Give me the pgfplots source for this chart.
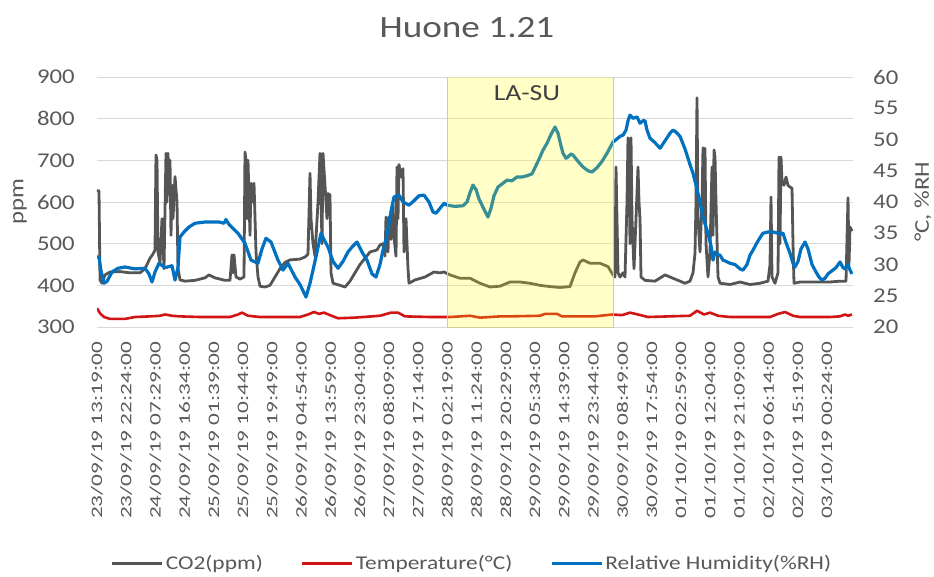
\documentclass[border=0pt]{standalone}
\usepackage{pgfplots}
\pgfplotsset{compat=1.18}
\usepackage{fontspec}
\setmainfont{Carlito}
\definecolor{txt}{RGB}{89,89,89}
\definecolor{gridc}{RGB}{217,217,217}
\definecolor{co2c}{RGB}{85,85,85}
\definecolor{tempc}{RGB}{210,20,20}
\definecolor{rhc}{RGB}{0,112,192}
\definecolor{boxedge}{RGB}{205,205,160}
\newcommand\xl[1]{\scalebox{1.45}[1]{#1}}
\newcommand\sx[1]{\scalebox{1.18}[1]{#1}}
\begin{document}
\begin{tikzpicture}
\useasboundingbox (-97pt,-249pt) rectangle (837pt,327pt);
\pgfplotsset{
  base/.style={
    scale only axis, width=756pt, height=250pt,
    xmin=97, xmax=853,
    axis line style={draw=none}, major tick length=0pt,
    /pgf/number format/assume math mode=true,
    clip=true,
  },
  legend image code/.code={\draw[#1,line width=3pt] (0pt,0pt) -- (50pt,0pt);},
}
\begin{axis}[base,
  ymin=300, ymax=900, ytick={300,400,...,900},
  ymajorgrids, grid style={draw=gridc, line width=0.9pt},
  yticklabel={\sx{\pgfmathprintnumber{\tick}}},
  yticklabel style={font=\fontsize{21}{21}\selectfont, text=txt, inner sep=0pt, xshift=-22pt},
  ylabel={\sx{ppm}},
  ylabel style={font=\fontsize{21}{21}\selectfont, text=txt, at={(axis description cs:-0.102,0.5)}, anchor=center},
  xtick={97,126.2,...,828},
  xticklabels={\xl{23/09/19 13:19:00},\xl{23/09/19 22:24:00},\xl{24/09/19 07:29:00},\xl{24/09/19 16:34:00},\xl{25/09/19 01:39:00},\xl{25/09/19 10:44:00},\xl{25/09/19 19:49:00},\xl{26/09/19 04:54:00},\xl{26/09/19 13:59:00},\xl{26/09/19 23:04:00},\xl{27/09/19 08:09:00},\xl{27/09/19 17:14:00},\xl{28/09/19 02:19:00},\xl{28/09/19 11:24:00},\xl{28/09/19 20:29:00},\xl{29/09/19 05:34:00},\xl{29/09/19 14:39:00},\xl{29/09/19 23:44:00},\xl{30/09/19 08:49:00},\xl{30/09/19 17:54:00},\xl{01/10/19 02:59:00},\xl{01/10/19 12:04:00},\xl{01/10/19 21:09:00},\xl{02/10/19 06:14:00},\xl{02/10/19 15:19:00},\xl{03/10/19 00:24:00}},
  xticklabel style={font=\fontsize{16}{16}\selectfont, text=txt, inner sep=0pt, yshift=-15pt, rotate=90, anchor=east},
]
\addplot[co2c, line width=2.8pt, line join=round] coordinates {
(97,627)(99,627)(100,413)(102,405)(105,425)(110,432)(120,433)(130,430)(140,430)(145,440)(148,455)(150,465)(153,475)(155,485)
(156,713)(157,700)(158,480)(160,455)(162,560)(164,440)(166,717)(167,600)(168,717)(169,620)(170,700)(171,520)(172,640)(173,560)
(175,661)(177,600)(178,440)(180,413)(185,410)(195,412)(205,418)(209,425)(215,418)(225,412)(230,412)(232,473)(233,430)(234,473)
(236,420)(240,415)(244,420)(245,720)(246,700)(247,560)(248,700)(250,520)(251,645)(253,600)(254,645)(256,480)(258,420)(260,398)
(265,396)(270,400)(275,420)(280,440)(285,455)(290,461)(300,463)(305,468)(308,475)(310,669)(311,560)(313,500)(315,470)(318,600)
(320,717)(322,500)(323,717)(325,640)(327,560)(328,620)(330,617)(331,430)(333,405)(340,400)(345,396)(350,410)(355,430)(360,450)
(365,465)(370,480)(377,485)(380,497)(383,500)(385,470)(386,564)(388,480)(389,564)(391,510)(393,600)(394,516)(396,470)(397,684)
(398,560)(399,690)(401,660)(403,680)(404,480)(406,560)(408,440)(409,405)(415,413)(425,420)(434,432)(440,430)(444,432)(450,425)
(460,417)(470,417)(480,405)(490,396)(500,398)(510,408)(520,408)(530,405)(540,400)(550,397)(560,395)(570,397)(575,430)(580,456)
(583,461)(590,453)(600,453)(608,445)(613,425)(615,420)(616,684)(618,430)(620,420)(623,430)(625,420)(627,600)(628,754)(629,700)
(630,500)(631,754)(632,560)(634,440)(636,560)(638,684)(639,600)(640,560)(641,420)(645,412)(655,410)(665,425)(670,420)(680,410)
(685,405)(690,410)(693,430)(695,477)(696,600)(697,850)(698,560)(700,480)(702,600)(703,730)(704,560)(705,729)(706,500)(708,420)
(710,480)(712,684)(713,520)(714,725)(715,708)(716,600)(718,420)(720,405)(730,402)(740,408)(750,402)(760,405)(768,410)(770,450)
(771,612)(772,420)(775,405)(778,430)(779,708)(780,500)(781,708)(782,650)(784,640)(786,660)(788,640)(790,636)(792,633)(793,500)
(794,405)(800,408)(810,408)(820,408)(830,408)(840,410)(846,410)(848,610)(849,450)(850,540)(852,530)
};
\end{axis}
\begin{axis}[base,
  ymin=20, ymax=60, ytick={20,25,...,60},
  axis y line*=right, axis x line=none,
  yticklabel={\sx{\pgfmathprintnumber{\tick}}},
  yticklabel style={font=\fontsize{21}{21}\selectfont, text=txt, inner sep=0pt, xshift=20pt, anchor=west},
  ylabel={\sx{°C, \%RH}},
  ylabel style={font=\fontsize{21}{21}\selectfont, text=txt, at={(axis description cs:1.0926,0.5)}, anchor=center},
  legend style={at={(0.496,-0.944)}, anchor=center, draw=none, fill=none,
    font=\fontsize{19.5}{19.5}\selectfont, text=txt, legend columns=3,
    /tikz/every even column/.append style={column sep=36pt}},
  legend cell align=left,
]
\addlegendimage{co2c, line width=2.8pt}
\addlegendentry{\scalebox{1.2}[1]{CO2(ppm)}}
\addplot[tempc, line width=2.6pt, line join=round] coordinates {
(97,23.0)(100,22.2)(104,21.6)(110,21.3)(125,21.3)(135,21.6)(150,21.7)(160,21.8)(165,22.0)(172,21.8)(180,21.7)(200,21.6)
(230,21.6)(238,22.0)(242,22.3)(248,21.8)(260,21.6)(300,21.6)(308,22.0)(314,22.4)(319,22.1)(324,22.3)(330,21.9)(338,21.4)
(355,21.5)(380,21.8)(391,22.3)(398,22.3)(405,21.7)(430,21.6)(450,21.6)(470,21.8)(480,21.5)(500,21.7)(510,21.7)(540,21.8)
(545,22.1)(557,22.1)(562,21.7)(595,21.7)(612,22.0)(622,21.9)(630,22.3)(638,22.0)(648,21.6)(690,21.8)(697,22.6)(704,22.0)
(710,22.3)(718,21.8)(730,21.6)(770,21.6)(778,22.1)(785,22.4)(793,21.8)(800,21.6)(830,21.6)(840,21.7)(845,22.0)(848,21.8)(852,22.0)
};
\addlegendentry{\scalebox{1.2}[1]{Temperature(°C)}}
\addplot[rhc, line width=3.2pt, line join=round] coordinates {
(97,31.2)(99,31.2)(101,29.0)(104,27.0)(107,27.3)(112,28.8)(118,29.4)(125,29.6)(135,29.3)(145,29.4)(149,28.5)(152,27.2)
(155,28.8)(159,30.2)(165,29.5)(172,29.8)(175,27.5)(178,29.5)(180,34.4)(184,35.2)(189,36.0)(195,36.6)(205,36.8)(219,36.8)
(224,36.6)(226,37.2)(229,36.4)(238,35.0)(245,33.4)(251,30.7)(258,30.2)(262,32.5)(266,34.2)(271,33.6)(278,30.7)(283,29.1)
(288,30.2)(295,28.0)(300,26.8)(306,24.8)(310,27.0)(313,29.1)(317,32.0)(321,35.0)(324,34.0)(328,32.8)(333,30.5)(338,29.4)
(343,30.5)(348,32.0)(352,32.8)(357,33.6)(362,32.0)(367,30.7)(372,28.5)(376,28.0)(380,30.0)(383,32.3)(386,34.0)(389,36.5)
(391,38.5)(394,40.8)(399,41.1)(403,40.0)(409,39.5)(414,40.2)(419,41.0)(424,41.1)(429,40.0)(433,38.4)(436,38.2)(440,39.0)
(444,39.8)(447,39.5)(455,39.3)(463,39.4)(467,40.0)(470,41.5)(473,42.7)(476,42.0)(479,40.5)(482,39.5)(485,38.5)(488,37.6)
(491,39.0)(494,41.0)(498,42.4)(503,43.0)(507,43.5)(512,43.4)(517,44.0)(522,44.0)(527,44.2)(532,44.5)(535,45.5)(538,46.5)
(540,47.2)(543,48.3)(547,49.4)(551,50.8)(555,52.0)(558,51.0)(561,49.0)(563,47.8)(566,47.0)(568,47.2)(571,47.7)(573,47.5)
(578,46.5)(583,45.6)(588,45.0)(592,44.8)(597,45.5)(602,46.5)(607,47.8)(610,48.7)(613,49.6)(617,50.1)(620,50.5)(623,50.7)
(626,51.5)(628,53.0)(630,53.9)(633,53.4)(637,53.6)(640,52.6)(643,53.0)(645,53.0)(647,51.5)(650,50.2)(655,49.5)(660,48.6)
(665,49.8)(670,51.0)(673,51.5)(676,51.2)(680,50.5)(685,48.5)(690,46.0)(693,44.6)(697,42.0)(700,40.0)(703,37.6)(706,36.0)
(708,35.0)(711,33.0)(713,30.7)(715,32.0)(717,31.6)(720,31.5)(723,30.7)(726,30.5)(730,30.2)(735,30.0)(740,29.3)(743,29.1)
(747,30.0)(750,31.5)(753,32.3)(757,33.5)(760,34.3)(763,35.0)(768,35.2)(773,35.2)(778,35.0)(783,35.0)(786,33.5)(790,31.8)
(793,30.2)(795,29.6)(798,30.5)(801,32.5)(805,33.6)(808,32.5)(812,30.0)(816,28.8)(819,28.0)(822,27.5)(825,27.8)(828,28.5)
(832,29.0)(836,29.5)(840,30.4)(843,29.5)(845,29.3)(848,30.0)(850,29.1)(852,28.5)
};
\addlegendentry{\scalebox{1.2}[1]{Relative Humidity(\%RH)}}
\draw[draw=boxedge, line width=0.8pt, fill={rgb,255:red,255;green,255;blue,0}, fill opacity=0.22] (axis cs:447,20) rectangle (axis cs:613,60.2);
\node[text={rgb,255:red,64;green,64;blue,64}, font=\fontsize{23}{23}\selectfont] at (axis cs:527,57.4) {\scalebox{1.2}[1]{LA-SU}};
\end{axis}
\node[text=txt, font=\fontsize{31}{31}\selectfont] at (370pt,299pt) {\scalebox{1.2}[1]{Huone 1.21}};
\end{tikzpicture}
\end{document}
